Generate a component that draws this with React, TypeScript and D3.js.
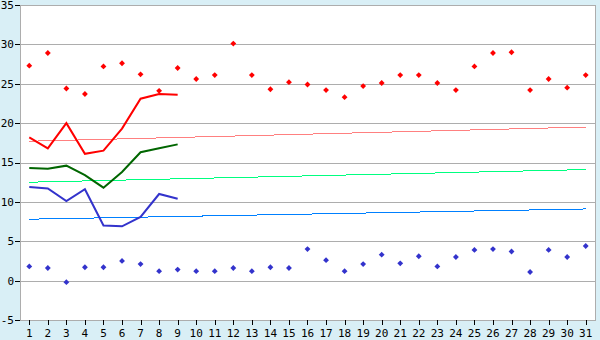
import React from "react";
import * as d3 from "d3";

const days = d3.range(1, 32).map(String);
const maxTemps = [27.3, 28.9, 24.4, 23.7, 27.2, 27.6, 26.2, 24.1, 27.0, 25.6, 26.1, 30.1, 26.1, 24.3, 25.2, 24.9, 24.2, 23.3, 24.7, 25.1, 26.1, 26.1, 25.1, 24.2, 27.2, 28.9, 29.0, 24.2, 25.6, 24.5, 26.1];
const minTemps = [1.8, 1.6, -0.2, 1.7, 1.7, 2.5, 2.1, 1.2, 1.4, 1.2, 1.2, 1.6, 1.2, 1.7, 1.6, 4.0, 2.6, 1.2, 2.1, 3.3, 2.2, 3.1, 1.8, 3.0, 3.9, 4.0, 3.7, 1.1, 3.9, 3.0, 4.4];
const dailyMax = [18.2, 16.8, 20.0, 16.1, 16.5, 19.3, 23.1, 23.7, 23.6];
const dailyMean = [14.3, 14.2, 14.6, 13.4, 11.8, 13.8, 16.3, 16.8, 17.3];
const dailyMin = [11.9, 11.7, 10.1, 11.6, 7.0, 6.9, 8.1, 11.0, 10.4];
const trendMax = [17.7, 19.5];
const trendMean = [12.5, 14.1];
const trendMin = [7.8, 9.1];
const yTicks = [-5, 0, 5, 10, 15, 20, 25, 30, 35];

const W = 600, H = 340;
const left = 20, right = 595, top = 5, bottom = 320;
const BG = "#d9eff6";
const GRID = "#adadad";

export default function App() {
  const x = d3.scaleBand<string>().domain(days).range([left, right]);
  const cx = (i: number) => (x(days[i]) as number) + x.bandwidth() / 2;
  const y = d3.scaleLinear().domain([-5, 35]).range([bottom, top]);

  const line = d3.line<number>().x((_, i) => cx(i)).y((v) => y(v));
  const trend = (vals: number[]) =>
    d3.line<number>().x((_, i) => cx(i === 0 ? 0 : days.length - 1)).y((v) => y(v))(vals) as string;

  const marker = d3.symbol().type(d3.symbolSquare).size(17)() as string;

  return (
    <div style={{ position: "fixed", left: 0, top: 0 }}>
      <svg width={W} height={H} style={{ display: "block" }}>
        <rect x={0} y={0} width={W} height={H} fill={BG} />
        <rect x={left} y={top} width={right - left} height={bottom - top} fill="#ffffff" />
        {yTicks.map((t) => (
          <g key={t}>
            <line x1={left} x2={right} y1={Math.round(y(t)) + 0.5} y2={Math.round(y(t)) + 0.5} stroke={GRID} strokeWidth={1} />
            <line x1={left - 5} x2={left} y1={Math.round(y(t)) + 0.5} y2={Math.round(y(t)) + 0.5} stroke="#000" strokeWidth={1} />
            <text x={left - 6} y={y(t)} dy="0.36em" textAnchor="end" fontFamily="DejaVu Sans Mono" fontSize={11} fill="#000">
              {t}
            </text>
          </g>
        ))}
        <line x1={left + 0.5} x2={left + 0.5} y1={top} y2={bottom + 1} stroke={GRID} />
        <line x1={right + 0.5} x2={right + 0.5} y1={top} y2={bottom + 1} stroke={GRID} />
        {days.map((d, i) => (
          <g key={d}>
            <line x1={Math.round(cx(i)) + 0.5} x2={Math.round(cx(i)) + 0.5} y1={bottom} y2={bottom + 5} stroke="#000" />
            <text x={cx(i)} y={337} textAnchor="middle" fontFamily="DejaVu Sans Mono" fontSize={11} fill="#000">
              {d}
            </text>
          </g>
        ))}
        <path d={trend(trendMax)} fill="none" stroke="#ff8080" strokeWidth={1} shapeRendering="crispEdges" />
        <path d={trend(trendMean)} fill="none" stroke="#00ff80" strokeWidth={1} shapeRendering="crispEdges" />
        <path d={trend(trendMin)} fill="none" stroke="#0080ff" strokeWidth={1} shapeRendering="crispEdges" />
        <path d={line(dailyMax) as string} fill="none" stroke="#ff0000" strokeWidth={2} />
        <path d={line(dailyMean) as string} fill="none" stroke="#006600" strokeWidth={2} />
        <path d={line(dailyMin) as string} fill="none" stroke="#3333cc" strokeWidth={2} />
        {maxTemps.map((v, i) => (
          <path key={"mx" + i} d={marker} transform={`translate(${cx(i)},${y(v)}) rotate(45)`} fill="#ff0000" />
        ))}
        {minTemps.map((v, i) => (
          <path key={"mn" + i} d={marker} transform={`translate(${cx(i)},${y(v)}) rotate(45)`} fill="#3333cc" />
        ))}
      </svg>
    </div>
  );
}
